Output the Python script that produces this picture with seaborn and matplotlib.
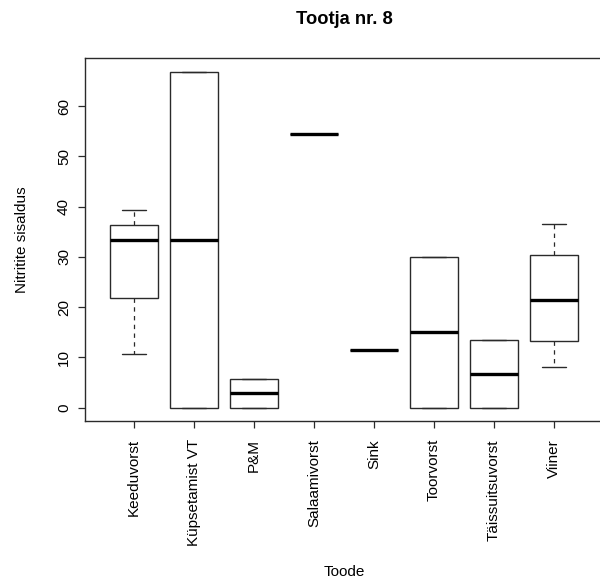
import matplotlib
matplotlib.use("Agg")
import matplotlib.pyplot as plt
import seaborn as sns
import pandas as pd

# Product groups and five-number summaries (min, lower hinge, median, upper hinge, max)
products = ["Keeduvorst", "Küpsetamist VT", "P&M", "Salaamivorst",
            "Sink", "Toorvorst", "Täissuitsuvorst", "Viiner"]
keeduvorst = [10.6, 21.9, 33.35, 36.4, 39.3]
kupsetamist = [0.0, 0.0, 33.4, 66.8, 66.8]
pm = [0.0, 0.0, 2.8, 5.6, 5.6]
salaamivorst = [54.4, 54.4, 54.4, 54.4, 54.4]
sink = [11.5, 11.5, 11.5, 11.5, 11.5]
toorvorst = [0.0, 0.0, 14.95, 29.9, 29.9]
taissuitsuvorst = [0.0, 0.0, 6.7, 13.4, 13.4]
viiner = [8.1, 13.2, 21.4, 30.4, 36.5]

y_ticks = [0, 10, 20, 30, 40, 50, 60]

groups = [keeduvorst, kupsetamist, pm, salaamivorst, sink,
          toorvorst, taissuitsuvorst, viiner]
df = pd.DataFrame({
    "Toode": [p for p, g in zip(products, groups) for _ in g],
    "Nitritite sisaldus": [v for g in groups for v in g],
})

sns.set_theme(style="white")
plt.rcParams["font.family"] = ["Liberation Sans", "DejaVu Sans"]

ink = "#2a2a2a"
fig = plt.figure(figsize=(6.0, 5.79), dpi=100)
ax = fig.add_axes([85 / 600, (579 - 421) / 579, (603 - 85) / 600, 363 / 579])

sns.boxplot(
    data=df, x="Toode", y="Nitritite sisaldus", order=products,
    color="white", linecolor=ink, linewidth=1.0, width=0.8,
    showfliers=False, whis=1.5, ax=ax,
    medianprops=dict(color="black", linewidth=2.4),
    whiskerprops=dict(linestyle=(0, (3.5, 3.5)), linewidth=0.9),
    capprops=dict(linewidth=1.0),
)

ax.set_xlim(-0.82, 7.82)
ax.set_ylim(-2.68, 69.58)
ax.set_yticks(y_ticks)
ax.set_yticklabels([str(t) for t in y_ticks], rotation=90, va="center")
ax.set_xticks(range(len(products)))
ax.set_xticklabels(products, rotation=90, ha="center", va="top")

for s in ax.spines.values():
    s.set_visible(True)
    s.set_color(ink)
    s.set_linewidth(1.0)
ax.tick_params(axis="both", which="major", direction="out", length=5,
               width=0.9, color=ink, labelsize=11, labelcolor="black",
               bottom=True, left=True)
ax.tick_params(axis="x", pad=8)
ax.tick_params(axis="y", pad=5)

ax.set_xlabel("Toode", fontsize=11, color="black", va="center")
ax.set_ylabel("Nitritite sisaldus", fontsize=11, color="black", va="center")
ax.xaxis.set_label_coords(0.5, -151 / 363, transform=ax.transAxes)
ax.yaxis.set_label_coords(-63 / 518, 0.5, transform=ax.transAxes)

fig.suptitle("Tootja nr. 8", x=344 / 600, y=1 - 20 / 579, va="center",
             fontsize=13.2, fontweight="bold", color="black")

fig.savefig("out.png", dpi=100, facecolor="white")
